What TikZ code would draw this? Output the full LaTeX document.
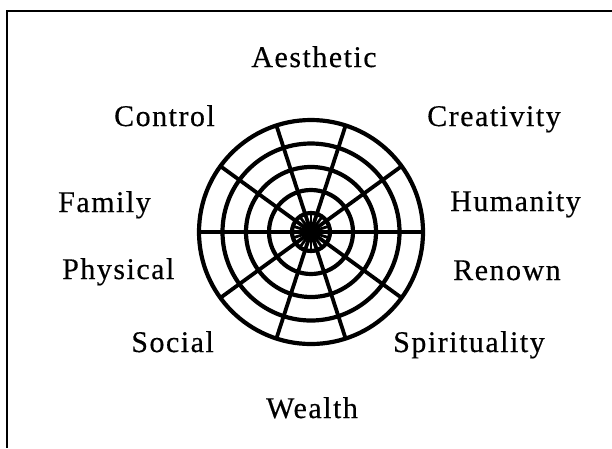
\documentclass[tikz,border=0pt]{standalone}
\usepackage{fontspec}
\setmainfont{Liberation Serif}[LetterSpace=5,FakeBold=0.4]
\begin{document}
\begin{tikzpicture}[x=1pt,y=-1pt,
  ring/.style={line width=4.2pt},
  spoke/.style={line width=3.8pt},
  frame/.style={line width=1.6pt},
  lab/.style={inner sep=0pt,font=\fontsize{30}{32}\selectfont}]
\useasboundingbox (0,0) rectangle (612,448);
\coordinate (c) at (311,232);
\coordinate (tl) at (7,11);
\coordinate (tr) at (612,11);
\coordinate (bl) at (7,448);
\draw[frame] (tr) -- (tl) -- (bl);
% spokes
\foreach \a in {0,36,...,324} \draw[spoke] (c) -- ++(\a:112);
\foreach \a in {18,54,...,342} \draw[spoke,line width=2.8pt] (c) -- ++(\a:19);
% rings
\foreach \r in {112,88.5,65,42,19} \draw[ring] (c) circle[radius=\r];
\fill (c) circle[radius=5];
% labels
\node[lab,anchor=base] (aes) at (314,67) {Aesthetic};
\node[lab,anchor=base east] (con) at (215,126) {Control};
\node[lab,anchor=base west] (cre) at (427,126) {Creativity};
\node[lab,anchor=base west] (fam) at (58,212) {Family};
\node[lab,anchor=base west] (hum) at (450,211) {Humanity};
\node[lab,anchor=base west] (phy) at (62,279) {Physical};
\node[lab,anchor=base west] (ren) at (453,280) {Renown};
\node[lab,anchor=base east] (soc) at (214,352) {Social};
\node[lab,anchor=base west] (spi) at (393,352) {Spirituality};
\node[lab,anchor=base] (wea) at (312,418) {Wealth};
\end{tikzpicture}
\end{document}
